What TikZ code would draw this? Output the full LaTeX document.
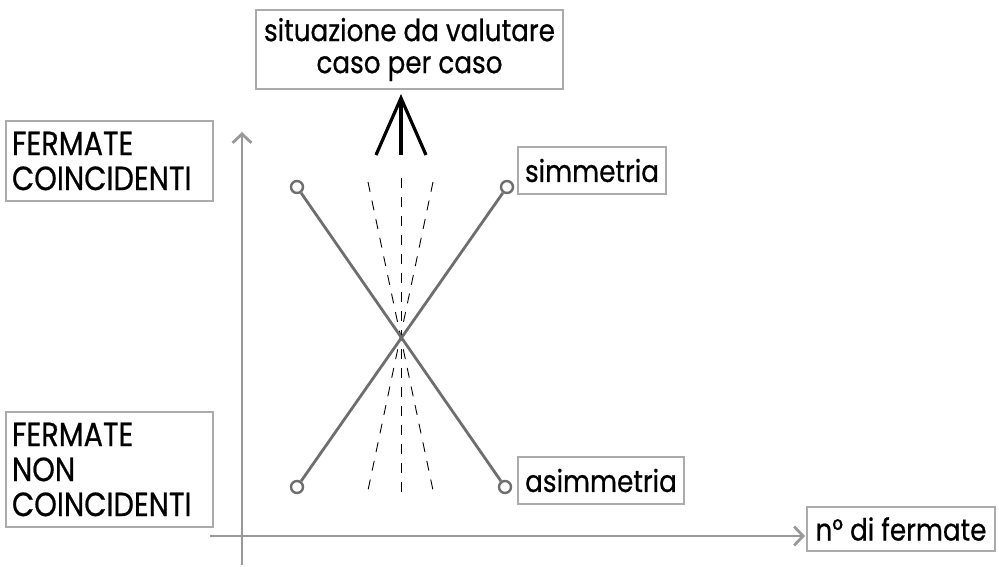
\documentclass[tikz,border=0pt]{standalone}
\usepackage{fontspec}
\setmainfont[FakeStretch=0.86,FakeBold=0.6]{Poppins}
\usetikzlibrary{arrows.meta}
\begin{document}
\begin{tikzpicture}[x=1pt,y=-1pt,
  box/.style={draw=black!33,line width=1.3pt,inner sep=0pt,font=\fontsize{30.5}{32}\selectfont},
  capbox/.style={box,font=\fontsize{33.5}{35}\selectfont},
  cross/.style={draw=black!57,line width=2.8pt},
  endpt/.style={circle,draw=black!57,line width=2.4pt,fill=white,minimum size=12pt,inner sep=0pt},
  axis/.style={draw=black!40,line width=2.8pt},
  fan/.style={draw=black,line width=0.9pt,dash pattern=on 10pt off 9pt},
  tip/.style={draw=black,line width=3.2pt}]
\useasboundingbox (0,0) rectangle (999,567);
% boxes
\node[box,minimum width=307pt,minimum height=79pt,align=center] (top) at (409.5,49.5) {situazione da valutare\\caso per caso};
\node[capbox,minimum width=207pt,minimum height=80pt,align=left,text width=195pt] (fc) at (109.5,161) {FERMATE\\COINCIDENTI};
\node[capbox,minimum width=207pt,minimum height=115pt,align=left,text width=195pt] (fnc) at (109.5,469.5) {FERMATE\\NON\\COINCIDENTI};
\node[box,minimum width=148pt,minimum height=47pt] (sim) at (592,170.5) {simmetria};
\node[box,minimum width=166pt,minimum height=47pt] (asim) at (601,480.5) {asimmetria};
\node[box,minimum width=188pt,minimum height=44pt] (nf) at (901,529) {n° di fermate};
% axes
\coordinate (yb) at (242,565);
\coordinate (yt) at (242,132);
\coordinate (xl) at (210,536);
\coordinate (xr) at (805,536);
\draw[axis,-{Straight Barb[length=9pt,width=19pt]}] (yb) -- (yt);
\draw[axis,-{Straight Barb[length=9pt,width=19pt]}] (xl) -- (xr);
% dashed fan
\coordinate (d1t) at (401,178); \coordinate (d1b) at (401,495);
\coordinate (d2t) at (368,182); \coordinate (d2b) at (434,495);
\coordinate (d3t) at (433,182); \coordinate (d3b) at (367,495);
\draw[fan] (d1t) -- (d1b);
\draw[fan] (d2t) -- (d2b);
\draw[fan] (d3t) -- (d3b);
% black arrow
\coordinate (apex) at (401,98);
\coordinate (l1) at (376,155); \coordinate (l2) at (401,155); \coordinate (l3) at (426,155);
\draw[tip] (l1) -- (apex) -- (l3);
\draw[tip] (l2) -- (apex);
% cross
\node[endpt] (tl) at (297,187) {};
\node[endpt] (tr) at (507,187) {};
\node[endpt] (bl) at (297,487) {};
\node[endpt] (br) at (505,487) {};
\draw[cross] (tl) -- (br);
\draw[cross] (tr) -- (bl);
\end{tikzpicture}
\end{document}
